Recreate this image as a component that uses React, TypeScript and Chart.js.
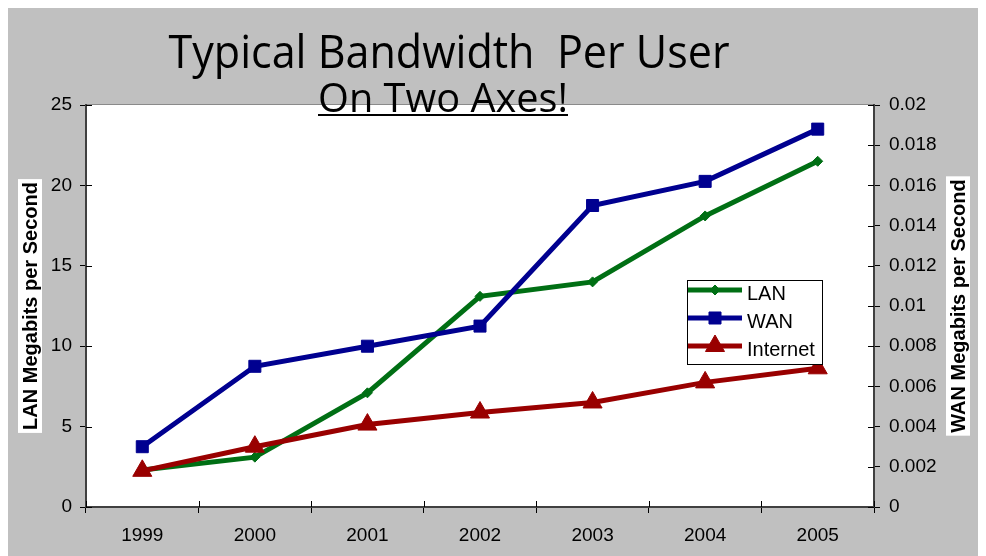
import React, { useEffect, useRef } from 'react';
import { Chart, registerables } from 'chart.js';
import { drawPoint } from 'chart.js/helpers';

Chart.register(...registerables);

// ---- data ----
const years = ['1999', '2000', '2001', '2002', '2003', '2004', '2005'];
const lanValues = [2.3, 3.1, 7.1, 13.1, 14.0, 18.1, 21.5];
const wanValues = [0.003, 0.007, 0.008, 0.009, 0.015, 0.0162, 0.0188];
const internetValues = [0.0018, 0.003, 0.0041, 0.0047, 0.0052, 0.0062, 0.0069];
const seriesNames = ['LAN', 'WAN', 'Internet'];
const leftAxisMax = 25;
const leftAxisStep = 5;
const rightAxisMax = 0.02;
const rightAxisStep = 0.002;
const titleText = 'Typical Bandwidth  Per User';
const subtitleText = 'On Two Axes!';
const leftAxisTitle = 'LAN Megabits per Second';
const rightAxisTitle = 'WAN Megabits per Second';

// ---- styles ----
const GREEN = '#006f14';
const NAVY = '#000090';
const MAROON = '#990000';
const TICK_FONT = "'Liberation Sans', Arial, sans-serif";
const TITLE_FONT = "'Open Sans', 'Liberation Sans', sans-serif";

function drawFitted(ctx: CanvasRenderingContext2D, text: string, font: string, cx: number, baseline: number, targetW: number) {
  ctx.save();
  ctx.font = font;
  const w = ctx.measureText(text).width;
  const s = targetW / w;
  ctx.translate(cx, baseline);
  ctx.scale(s, 1);
  ctx.textAlign = 'center';
  ctx.textBaseline = 'alphabetic';
  ctx.fillStyle = '#000';
  ctx.fillText(text, 0, 0);
  ctx.restore();
}

function drawVerticalTitle(ctx: CanvasRenderingContext2D, text: string, cx: number, cy: number) {
  ctx.save();
  ctx.font = `bold 20px ${TICK_FONT}`;
  const w = ctx.measureText(text).width;
  ctx.fillStyle = '#fff';
  ctx.fillRect(cx - 12, cy - w / 2 - 3, 24, w + 6);
  ctx.translate(cx, cy);
  ctx.rotate(-Math.PI / 2);
  ctx.fillStyle = '#000';
  ctx.textAlign = 'center';
  ctx.textBaseline = 'middle';
  ctx.fillText(text, 0, 1);
  ctx.restore();
}

const decorPlugin = {
  id: 'decor',
  beforeDraw(chart: any) {
    const { ctx, chartArea: a, width, height } = chart;
    ctx.save();
    ctx.fillStyle = '#c0c0c0';
    ctx.fillRect(0, 0, width, height);
    ctx.fillStyle = '#ffffff';
    ctx.fillRect(a.left, a.top, a.right - a.left, a.bottom - a.top);
    ctx.strokeStyle = '#8a8a8a';
    ctx.lineWidth = 1;
    ctx.beginPath();
    ctx.moveTo(a.left, a.top - 0.5);
    ctx.lineTo(a.right, a.top - 0.5);
    ctx.stroke();
    ctx.restore();
  },
  afterDraw(chart: any) {
    const { ctx, chartArea: a, scales } = chart;
    ctx.save();
    // inner halves of the crossing tick marks
    ctx.strokeStyle = '#000';
    ctx.lineWidth = 1;
    ctx.beginPath();
    scales.y.ticks.forEach((t: any) => {
      const py = Math.round(scales.y.getPixelForValue(t.value)) + 0.5;
      ctx.moveTo(a.left, py);
      ctx.lineTo(a.left + 6, py);
    });
    scales.y1.ticks.forEach((t: any) => {
      const py = Math.round(scales.y1.getPixelForValue(t.value)) + 0.5;
      ctx.moveTo(a.right - 6, py);
      ctx.lineTo(a.right, py);
    });
    const n = years.length;
    for (let i = 0; i <= n; i++) {
      const px = Math.round(a.left + ((a.right - a.left) * i) / n) + 0.5;
      ctx.moveTo(px, a.bottom - 6);
      ctx.lineTo(px, a.bottom);
    }
    ctx.stroke();

    // titles
    const cx = (a.left + a.right) / 2;
    drawFitted(ctx, titleText, `46px ${TITLE_FONT}`, cx - 31, a.top - 37, 561);
    drawFitted(ctx, subtitleText, `40px ${TITLE_FONT}`, cx - 37, a.top + 7, 250);
    ctx.fillStyle = '#000';
    ctx.fillRect(cx - 37 - 125, a.top + 9, 250, 2);

    // axis titles
    drawVerticalTitle(ctx, leftAxisTitle, 22, (a.top + a.bottom) / 2);
    drawVerticalTitle(ctx, rightAxisTitle, a.right + 84, (a.top + a.bottom) / 2);

    // legend
    const lx = a.left + 601;
    const ly = a.top + 175;
    ctx.fillStyle = '#fff';
    ctx.fillRect(lx, ly, 136, 85);
    ctx.strokeStyle = '#000';
    ctx.lineWidth = 1;
    ctx.strokeRect(lx + 0.5, ly + 0.5, 135, 84);
    chart.data.datasets.forEach((ds: any, i: number) => {
      const rowY = ly + 14 + i * 28;
      const lineY = rowY - 4;
      ctx.strokeStyle = ds.borderColor;
      ctx.lineWidth = 5;
      ctx.beginPath();
      ctx.moveTo(lx + 1, lineY);
      ctx.lineTo(lx + 55, lineY);
      ctx.stroke();
      ctx.fillStyle = ds.pointBackgroundColor;
      ctx.strokeStyle = ds.pointBorderColor;
      ctx.lineWidth = 1;
      drawPoint(ctx, { pointStyle: ds.pointStyle, radius: ds.pointRadius, rotation: 0, borderWidth: 1 }, lx + 28, lineY);
      ctx.fillStyle = '#000';
      ctx.font = `20px ${TICK_FONT}`;
      ctx.textAlign = 'left';
      ctx.textBaseline = 'middle';
      ctx.fillText(ds.label, lx + 60, rowY);
    });
    ctx.restore();
  },
};

export default function App() {
  const canvasRef = useRef<HTMLCanvasElement | null>(null);

  useEffect(() => {
    if (!canvasRef.current) return;
    const tickFont = { family: TICK_FONT, size: 19 };
    const chart = new Chart(canvasRef.current, {
      type: 'line',
      data: {
        labels: years,
        datasets: [
          {
            label: seriesNames[0],
            data: lanValues,
            yAxisID: 'y',
            borderColor: GREEN,
            backgroundColor: GREEN,
            pointBackgroundColor: GREEN,
            pointBorderColor: GREEN,
            borderWidth: 5,
            pointStyle: 'rectRot',
            pointRadius: 5,
            pointBorderWidth: 1,
            tension: 0,
            order: 2,
          },
          {
            label: seriesNames[1],
            data: wanValues,
            yAxisID: 'y1',
            borderColor: NAVY,
            backgroundColor: NAVY,
            pointBackgroundColor: NAVY,
            pointBorderColor: NAVY,
            borderWidth: 5,
            pointStyle: 'rect',
            pointRadius: 8.5,
            pointBorderWidth: 1,
            tension: 0,
            order: 1,
          },
          {
            label: seriesNames[2],
            data: internetValues,
            yAxisID: 'y1',
            borderColor: MAROON,
            backgroundColor: MAROON,
            pointBackgroundColor: MAROON,
            pointBorderColor: MAROON,
            borderWidth: 5,
            pointStyle: 'triangle',
            pointRadius: 11,
            pointBorderWidth: 1,
            tension: 0,
            order: 0,
          },
        ],
      },
      options: {
        responsive: false,
        animation: false,
        events: [],
        layout: { padding: { top: 97, left: 0, right: 0, bottom: 0 } },
        plugins: {
          legend: { display: false },
          title: { display: false },
          tooltip: { enabled: false },
        },
        scales: {
          x: {
            type: 'category',
            offset: true,
            grid: { offset: true, drawOnChartArea: false, drawTicks: true, tickLength: 6, color: '#000', lineWidth: 1 },
            border: { display: true, color: '#404040', width: 2 },
            ticks: { font: tickFont, color: '#000', padding: 11, maxRotation: 0, autoSkip: false },
            afterFit: (s: any) => { s.height = 49; },
          },
          y: {
            type: 'linear',
            position: 'left',
            min: 0,
            max: leftAxisMax,
            grid: { drawOnChartArea: false, drawTicks: true, tickLength: 6, color: '#000', lineWidth: 1 },
            border: { display: true, color: '#404040', width: 2 },
            ticks: { stepSize: leftAxisStep, font: tickFont, color: '#000', padding: 8 },
            afterFit: (s: any) => { s.width = 78; },
          },
          y1: {
            type: 'linear',
            position: 'right',
            min: 0,
            max: rightAxisMax,
            grid: { drawOnChartArea: false, drawTicks: true, tickLength: 6, color: '#000', lineWidth: 1 },
            border: { display: true, color: '#404040', width: 2 },
            ticks: {
              stepSize: rightAxisStep,
              font: tickFont,
              color: '#000',
              padding: 9,
              callback: (v: any) => String(parseFloat(Number(v).toFixed(4))),
            },
            afterFit: (s: any) => { s.width = 112; },
          },
        },
      },
      plugins: [decorPlugin],
    });
    return () => chart.destroy();
  }, []);

  return (
    <canvas ref={canvasRef} width={978} height={548} style={{ display: 'block' }} />
  );
}
